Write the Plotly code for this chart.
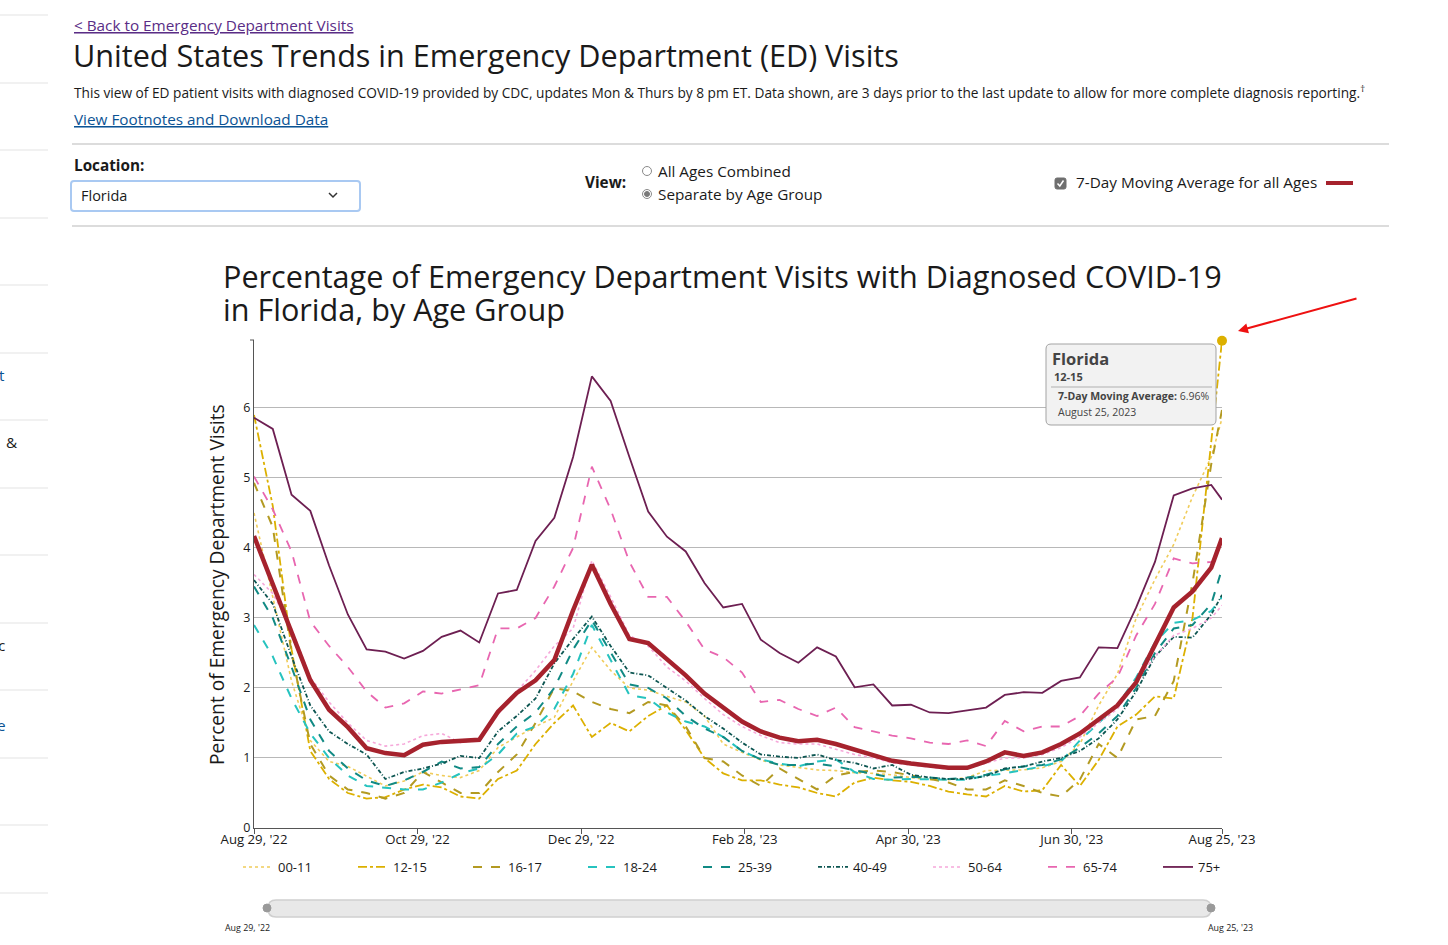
import plotly.graph_objects as go
import pandas as pd

W, H = 1448, 945
def px(x): return x / W
def py(y): return 1 - y / H

# ---------------- data ----------------
dates = pd.date_range("2022-08-29", periods=52, freq="7D").tolist() + [pd.Timestamp("2023-08-25")]

age_00_11 = [4.5, 3.3, 2.1, 1.25, 0.95, 0.88, 0.74, 0.6, 0.67, 0.8, 0.75, 0.72, 0.82, 1.15, 1.3, 1.45,
             1.58, 2.1, 2.58, 2.25, 2.0, 1.97, 1.88, 1.8, 1.6, 1.2, 1.08, 0.97, 0.9, 0.87, 0.83, 0.82,
             0.79, 0.78, 0.76, 0.72, 0.69, 0.69, 0.72, 0.82, 0.83, 0.83, 0.86, 0.95, 1.2, 1.75, 2.2,
             3.0, 3.55, 4.05, 4.73, 5.3, 5.85]
age_12_15 = [5.9, 4.6, 2.55, 1.1, 0.7, 0.5, 0.42, 0.44, 0.55, 0.62, 0.58, 0.45, 0.42, 0.7, 0.82, 1.2,
             1.5, 1.75, 1.3, 1.5, 1.38, 1.6, 1.75, 1.4, 1.0, 0.78, 0.68, 0.68, 0.62, 0.58, 0.5, 0.45,
             0.65, 0.72, 0.68, 0.66, 0.6, 0.52, 0.48, 0.45, 0.6, 0.52, 0.54, 0.9, 0.6, 0.97, 1.45,
             1.62, 1.88, 1.85, 3.0, 5.5, 6.96]
age_16_17 = [4.93, 4.3, 2.5, 1.2, 0.75, 0.55, 0.5, 0.42, 0.5, 0.8, 0.65, 0.5, 0.5, 0.8, 1.05, 1.5,
             2.0, 1.95, 1.8, 1.7, 1.64, 1.8, 1.75, 1.45, 1.0, 0.95, 0.75, 0.6, 0.85, 0.7, 0.55, 0.75,
             0.8, 0.82, 0.8, 0.75, 0.7, 0.65, 0.55, 0.55, 0.68, 0.6, 0.5, 0.45, 0.69, 1.2, 1.0,
             1.55, 1.6, 2.1, 3.5, 5.2, 5.97]
age_18_24 = [2.9, 2.45, 1.85, 1.35, 1.0, 0.75, 0.6, 0.58, 0.55, 0.55, 0.65, 0.78, 0.85, 1.05, 1.35, 1.45,
             1.7, 2.2, 2.9, 2.4, 1.9, 1.85, 1.65, 1.52, 1.45, 1.3, 1.1, 0.98, 0.92, 0.88, 0.95, 0.98,
             0.8, 0.7, 0.69, 0.7, 0.69, 0.69, 0.69, 0.75, 0.78, 0.83, 0.88, 0.95, 1.25, 1.5, 1.75,
             2.15, 2.65, 2.93, 2.97, 3.1, 3.3]
age_25_39 = [3.45, 3.0, 2.3, 1.55, 1.1, 0.85, 0.68, 0.6, 0.68, 0.8, 0.95, 0.85, 0.87, 1.2, 1.45, 1.65,
             2.0, 2.55, 2.97, 2.5, 2.05, 2.0, 1.85, 1.6, 1.42, 1.3, 1.1, 0.98, 0.9, 0.9, 0.92, 0.88,
             0.82, 0.77, 0.72, 0.73, 0.72, 0.7, 0.72, 0.76, 0.84, 0.88, 0.9, 0.98, 1.15, 1.35, 1.6,
             2.0, 2.5, 2.85, 2.9, 3.2, 3.7]
age_40_49 = [3.54, 3.2, 2.45, 1.75, 1.38, 1.2, 1.05, 0.7, 0.8, 0.85, 0.92, 1.03, 1.0, 1.38, 1.6, 1.85,
             2.35, 2.7, 3.02, 2.6, 2.22, 2.18, 2.0, 1.82, 1.6, 1.42, 1.22, 1.05, 1.02, 1.0, 1.05, 0.97,
             0.93, 0.85, 0.9, 0.76, 0.72, 0.7, 0.7, 0.74, 0.85, 0.88, 0.95, 1.0, 1.1, 1.28, 1.55,
             1.95, 2.45, 2.73, 2.72, 3.05, 3.33]
age_50_64 = [3.62, 3.35, 2.85, 2.15, 1.8, 1.5, 1.25, 1.17, 1.2, 1.32, 1.35, 1.22, 1.26, 1.62, 1.95, 2.25,
             2.6, 2.85, 3.82, 3.3, 2.75, 2.6, 2.3, 2.1, 1.85, 1.62, 1.45, 1.32, 1.22, 1.2, 1.2, 1.12,
             1.05, 1.0, 0.93, 0.9, 0.87, 0.84, 0.85, 0.92, 1.0, 1.0, 1.05, 1.15, 1.3, 1.5, 1.7,
             2.1, 2.45, 2.75, 2.85, 3.0, 3.18]
age_65_74 = [5.02, 4.55, 3.95, 2.95, 2.6, 2.3, 1.95, 1.72, 1.78, 1.95, 1.92, 1.98, 2.04, 2.85, 2.85, 3.0,
             3.45, 4.0, 5.16, 4.55, 3.8, 3.3, 3.3, 2.95, 2.55, 2.44, 2.22, 1.8, 1.83, 1.7, 1.6, 1.72,
             1.44, 1.38, 1.32, 1.28, 1.22, 1.2, 1.25, 1.17, 1.53, 1.38, 1.45, 1.45, 1.6, 1.92, 2.15,
             2.75, 3.2, 3.85, 3.78, 3.8, 3.85]
age_75_plus = [5.86, 5.7, 4.76, 4.53, 3.75, 3.05, 2.55, 2.52, 2.42, 2.53, 2.73, 2.82, 2.65, 3.35, 3.4, 4.1,
               4.43, 5.3, 6.45, 6.1, 5.3, 4.52, 4.16, 3.95, 3.5, 3.15, 3.2, 2.69, 2.5, 2.36, 2.58, 2.45,
               2.01, 2.05, 1.75, 1.76, 1.65, 1.64, 1.68, 1.72, 1.9, 1.94, 1.93, 2.1, 2.15, 2.58, 2.57,
               3.15, 3.8, 4.75, 4.85, 4.9, 4.69]
all_ages_7day = [4.17, 3.49, 2.83, 2.11, 1.69, 1.44, 1.14, 1.07, 1.04, 1.19, 1.23, 1.24, 1.26, 1.66, 1.93, 2.11,
                 2.4, 3.11, 3.76, 3.2, 2.7, 2.64, 2.42, 2.18, 1.92, 1.72, 1.52, 1.38, 1.29, 1.24, 1.26, 1.2,
                 1.12, 1.05, 0.96, 0.92, 0.89, 0.86, 0.86, 0.95, 1.08, 1.03, 1.08, 1.2, 1.35, 1.55, 1.75,
                 2.08, 2.6, 3.15, 3.38, 3.72, 4.14]

series_names = ["00-11", "12-15", "16-17", "18-24", "25-39", "40-49", "50-64", "65-74", "75+"]
series_values = [age_00_11, age_12_15, age_16_17, age_18_24, age_25_39, age_40_49, age_50_64, age_65_74, age_75_plus]
series_colors = ["#f0cc5a", "#dcb000", "#b39a22", "#26c3bf", "#118a84", "#0d5652", "#f6a8da", "#e866b0", "#6d1f52"]
series_dash = ["dot", "dashdot", "dash", "dash", "dash", "4px,2px,1px,2px", "dot", "dash", "solid"]
series_width = [1.6, 1.8, 2, 2, 2, 1.8, 1.6, 1.8, 1.8]

tick_dates = ["2022-08-29", "2022-10-29", "2022-12-29", "2023-02-28", "2023-04-30", "2023-06-30", "2023-08-25"]
tick_text = ["Aug 29, '22", "Oct 29, '22", "Dec 29, '22", "Feb 28, '23", "Apr 30, '23", "Jun 30, '23", "Aug 25, '23"]

hover_value = 6.96

# ---------------- figure ----------------
fig = go.Figure()
for nm, vals, col, dsh, wd in zip(series_names, series_values, series_colors, series_dash, series_width):
    fig.add_trace(go.Scatter(x=dates, y=vals, mode="lines", name=nm,
                             line=dict(color=col, dash=dsh, width=wd)))
fig.add_trace(go.Scatter(x=dates, y=all_ages_7day, mode="lines", name="7-Day Moving Average",
                         line=dict(color="#a6222d", width=4.5), showlegend=False))
fig.add_trace(go.Scatter(x=[dates[-1]], y=[hover_value], mode="markers", showlegend=False,
                         marker=dict(color="#dcb000", size=10), cliponaxis=False))

FONT = "Open Sans"
BODY = 15.3
ann = []
shapes = []

def text(x, y, s, size, color="#1a1a1a", xanchor="left", yanchor="middle", **kw):
    ann.append(dict(x=px(x), y=py(y), xref="paper", yref="paper", text=s, showarrow=False,
                    xanchor=xanchor, yanchor=yanchor, font=dict(family=FONT, size=size, color=color), **kw))

def hline(x0, x1, y, color="#bdbdbd", width=1):
    shapes.append(dict(type="line", xref="paper", yref="paper", x0=px(x0), x1=px(x1), y0=py(y), y1=py(y),
                       line=dict(color=color, width=width)))

def rrect(x0, y0, x1, y1, r, fill, line, lw=1):
    p = (f"M{px(x0+r)},{py(y0)} L{px(x1-r)},{py(y0)} Q{px(x1)},{py(y0)} {px(x1)},{py(y0+r)} "
         f"L{px(x1)},{py(y1-r)} Q{px(x1)},{py(y1)} {px(x1-r)},{py(y1)} L{px(x0+r)},{py(y1)} "
         f"Q{px(x0)},{py(y1)} {px(x0)},{py(y1-r)} L{px(x0)},{py(y0+r)} Q{px(x0)},{py(y0)} {px(x0+r)},{py(y0)} Z")
    shapes.append(dict(type="path", xref="paper", yref="paper", path=p, fillcolor=fill,
                       line=dict(color=line, width=lw)))

def circle(cx, cy, r, fill, line, lw=1):
    shapes.append(dict(type="circle", xref="paper", yref="paper", x0=px(cx-r), x1=px(cx+r),
                       y0=py(cy+r), y1=py(cy-r), fillcolor=fill, line=dict(color=line, width=lw)))

# left sidebar separators
for yy in [15, 83, 150, 218, 285, 353, 420, 488, 555, 623, 690, 758, 825, 893]:
    hline(0, 48, yy, color="#e3e3e3")
text(-3, 375, "t", BODY, color="#0b5394")
text(4, 442, "&amp;", BODY, color="#1a1a1a")
text(-4, 645, "c", BODY, color="#1a1a1a")
text(-5, 725, "e", BODY, color="#0b5394")

# page header
text(72, 25, "<u>&lt; Back to Emergency Department Visits</u>", BODY, color="#5a2d86")
text(71, 55, "United States Trends in Emergency Department (ED) Visits", 30.6, color="#1a1a1a")
text(72, 92, "This view of ED patient visits with diagnosed COVID-19 provided by CDC, updates Mon &amp; Thurs by 8 pm ET. "
             "Data shown, are 3 days prior to the last update to allow for more complete diagnosis reporting.<sup>†</sup>",
     13.7, color="#1a1a1a")
text(72, 119, "<u>View Footnotes and Download Data</u>", BODY, color="#0b5394")
hline(72, 1389, 144, color="#b9b9b9")
hline(72, 1389, 226, color="#b9b9b9")

# controls
text(72, 165, "<b>Location:</b>", BODY)
rrect(71, 181, 360, 211, 3, "#ffffff", "#a9c9f2", 2)
text(79, 196, "Florida", 14.5)
shapes.append(dict(type="path", xref="paper", yref="paper",
                   path=f"M{px(329)},{py(193)} L{px(333)},{py(197)} L{px(337)},{py(193)}",
                   line=dict(color="#333", width=1.5)))
text(583, 182, "<b>View:</b>", BODY)
circle(647, 171, 4.5, "#ffffff", "#8a8a8a")
text(656, 171, "All Ages Combined", BODY)
circle(647, 194, 4.5, "#ffffff", "#8a8a8a")
circle(647, 194, 2.5, "#7a7a7a", "#7a7a7a")
text(656, 194, "Separate by Age Group", BODY)
rrect(1055, 178, 1066, 189, 2, "#6f6f6f", "#6f6f6f")
shapes.append(dict(type="path", xref="paper", yref="paper",
                   path=f"M{px(1057.5)},{py(183.5)} L{px(1059.8)},{py(186)} L{px(1063.5)},{py(180.5)}",
                   line=dict(color="#ffffff", width=1.5)))
text(1074, 182, "7-Day Moving Average for all Ages", BODY)
hline(1326, 1353, 183, color="#a6222d", width=4)

# chart title (two lines)
text(221, 276, "Percentage of Emergency Department Visits with Diagnosed COVID-19", 30.6)
text(221, 309, "in Florida, by Age Group", 30.6)

# y axis title
ann.append(dict(x=px(216), y=py(585), xref="paper", yref="paper", text="Percent of Emergency Department Visits",
                showarrow=False, textangle=-90, xanchor="center", yanchor="middle",
                font=dict(family=FONT, size=19.2, color="#1a1a1a")))
# top end tick of y axis
hline(250, 254, 340, color="#555555", width=1)

# tooltip
rrect(1046, 344, 1216, 425, 5, "#f2f2f2", "#a3a3a3", 1)
text(1050, 358, "<b>Florida</b>", 16.5, color="#444444")
text(1052, 376, "<b>12-15</b>", 11, color="#444444")
hline(1051, 1212, 387, color="#b0b0b0")
text(1056, 396, "<b>7-Day Moving Average:</b> 6.96%", 10.5, color="#444444")
text(1056, 412, "August 25, 2023", 10.5, color="#444444")

# red arrow
ann.append(dict(x=px(1238), y=py(331), xref="paper", yref="paper", ax=120, ay=-33, text="",
                showarrow=True, arrowhead=2, arrowsize=1, arrowwidth=2, arrowcolor="#ee1111"))

# range slider look
rrect(268, 900, 1211, 917, 8, "#e8e8e8", "#cfcfcf", 1.5)
circle(267, 908, 4, "#9a9a9a", "#9a9a9a")
circle(1211, 908, 4, "#9a9a9a", "#9a9a9a")
text(247, 927, "Aug 29, '22", 8.9, xanchor="center", color="#222")
text(1230, 927, "Aug 25, '23", 8.9, xanchor="center", color="#222")

fig.update_layout(
    width=W, height=H, margin=dict(l=0, r=0, t=0, b=0, pad=0, autoexpand=False),
    paper_bgcolor="white", plot_bgcolor="white",
    font=dict(family=FONT, color="#1a1a1a"),
    xaxis=dict(domain=[px(254), px(1222)], type="date", range=["2022-08-29", "2023-08-25"],
               tickvals=tick_dates, ticktext=tick_text, showgrid=False, showline=True,
               linecolor="#555555", linewidth=1, ticks="outside", ticklen=5, tickcolor="#555555",
               ticklabelstandoff=-6,
               tickfont=dict(family=FONT, size=13.2, color="#1a1a1a"), zeroline=False, fixedrange=True),
    yaxis=dict(domain=[py(828), py(340)], range=[0, 6.97], tickvals=[0, 1, 2, 3, 4, 5, 6],
               showgrid=True, gridcolor="#b8b8b8", gridwidth=1, showline=True, linecolor="#555555",
               linewidth=1, ticks="", zeroline=False, tickfont=dict(family=FONT, size=12.5, color="#1a1a1a"),
               fixedrange=True),
    legend=dict(orientation="h", x=px(238), y=py(852), xanchor="left", yanchor="top",
                entrywidth=70, entrywidthmode="pixels", font=dict(family=FONT, size=13, color="#1a1a1a"),
                bgcolor="rgba(0,0,0,0)"),
    annotations=ann, shapes=shapes, hovermode=False,
)

fig.write_html("out.html", config={"displayModeBar": False},
               post_script="document.body.style.margin='0';document.body.style.overflow='hidden';")
